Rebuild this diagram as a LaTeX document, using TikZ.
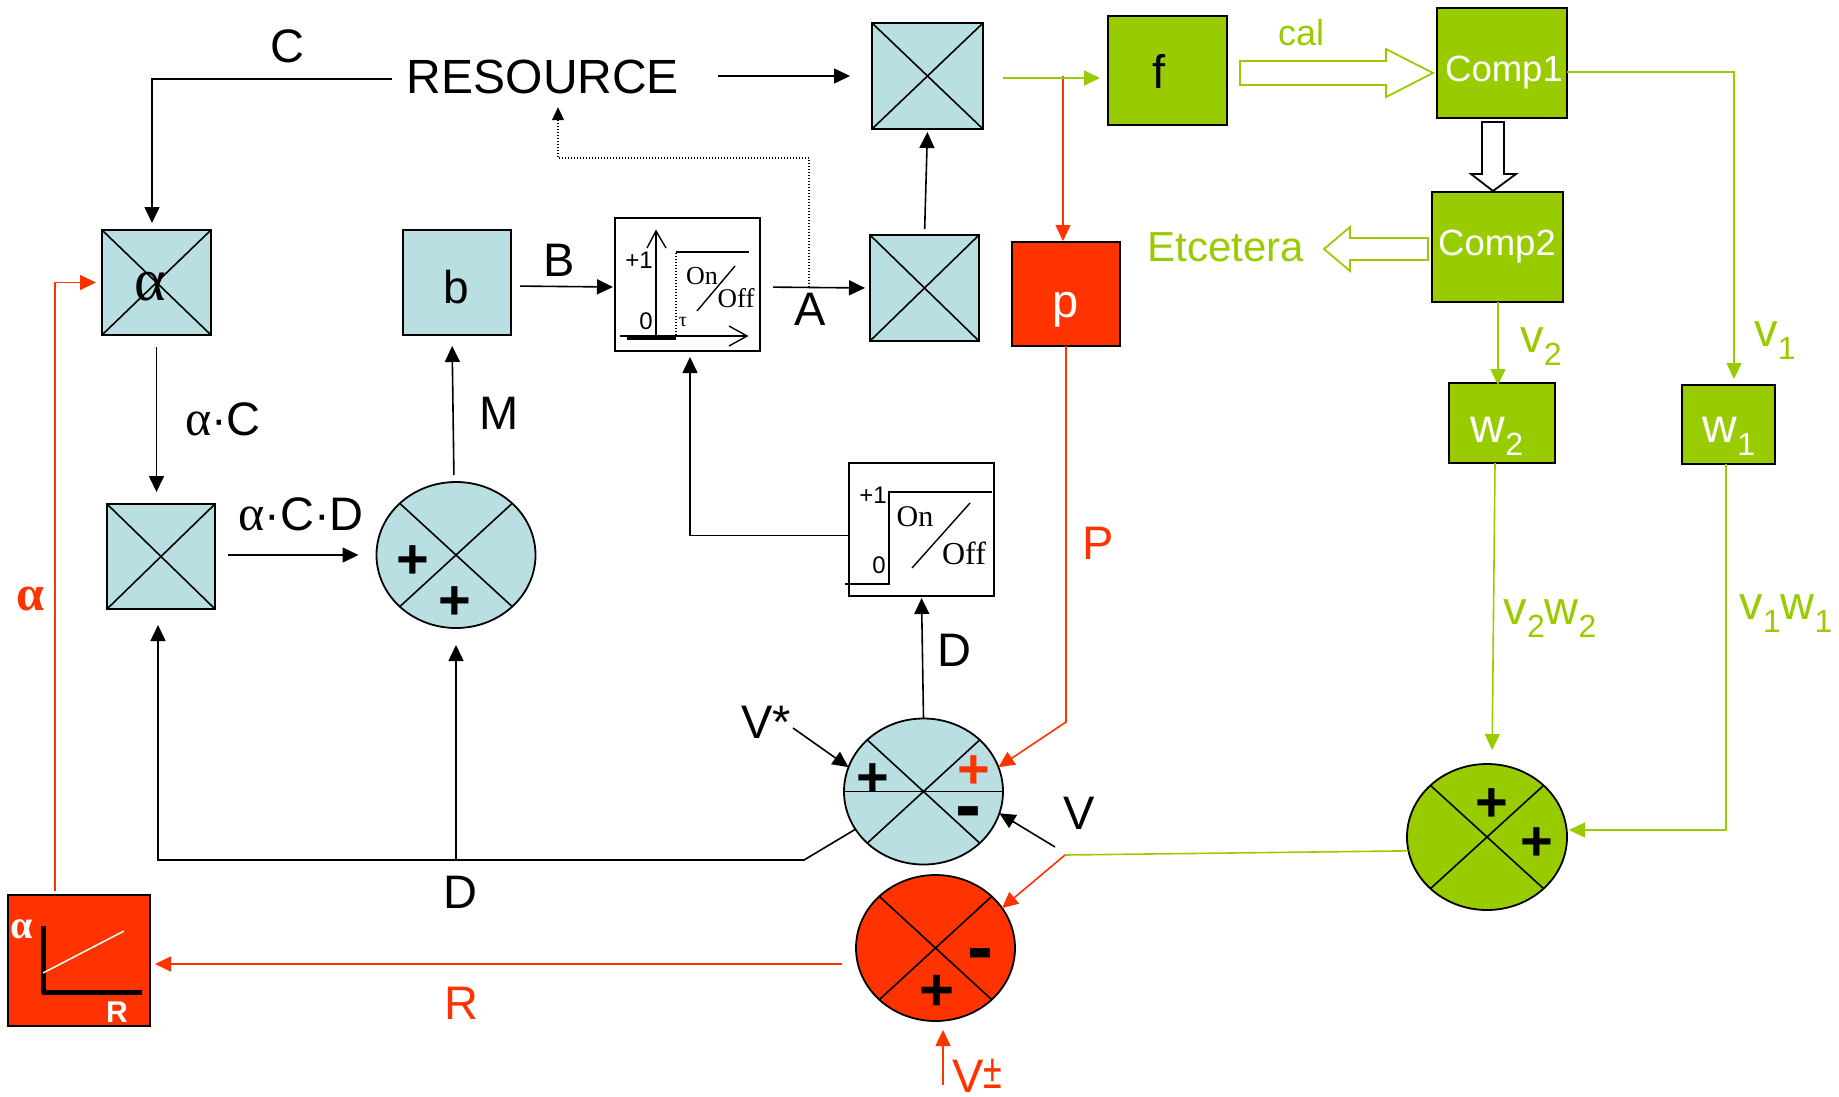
\documentclass[tikz,border=0pt]{standalone}
\usepackage{fontspec}
\setmainfont{Liberation Sans}
\newfontfamily\srf{Liberation Serif}
\usetikzlibrary{arrows.meta,shapes.geometric}
\definecolor{bl}{HTML}{B9DFE3}
\definecolor{gr}{HTML}{99CC00}
\definecolor{rd}{HTML}{FF3300}
\newcommand\fsz[1]{\fontsize{#1}{#1}\selectfont}
\newcommand\sbs[1]{\raisebox{-13pt}{\fsz{32}#1}}
\newcommand\agr{{\srf\fsz{50}α}}
\tikzset{
  sq/.style={rectangle,draw=black,line width=1.8pt,inner sep=0,outer sep=0,fill=bl},
  grbox/.style={sq,fill=gr,text=white},
  rdbox/.style={sq,fill=rd,text=white},
  whbox/.style={sq,fill=white},
  sm/.style={ellipse,draw=black,line width=1.8pt,inner sep=0,outer sep=0,fill=bl,minimum width=159pt,minimum height=146pt},
  txt/.style={inner sep=0,outer sep=0,font=\fsz{47}},
  gtxt/.style={txt,text=gr},
  rtxt/.style={txt,text=rd},
  pl/.style={inner sep=0,outer sep=0,font=\bfseries\fsz{56}},
  mn/.style={inner sep=0,outer sep=0,font=\bfseries\fsz{78}},
  tip/.style={-{Triangle[length=16pt,width=15pt]}},
  con/.style={line width=1.6pt,tip,black},
  rcon/.style={line width=1.6pt,tip,rd,line join=miter},
  gcon/.style={line width=1.6pt,tip,gr},
  xl/.style={line width=1.6pt,black},
  hollow/.style={line width=1.8pt,fill=white,line join=miter},
}
\begin{document}
\begin{tikzpicture}[x=1pt,y=-1pt]
\useasboundingbox (0,0) rectangle (1839,1096);
% boxes
\node[sq,minimum width=109pt,minimum height=105pt] (alpha) at (156.5,282.5) {};
\node[sq,minimum width=108pt,minimum height=105pt] (mtwo) at (161,556.5) {};
\node[sq,minimum width=108pt,minimum height=105pt] (bb) at (457,282.5) {};
\node[sq,minimum width=109pt,minimum height=106pt] (mA) at (924.5,288) {};
\node[sq,minimum width=111pt,minimum height=106pt] (mtop) at (927.5,76) {};
\node[whbox,minimum width=145pt,minimum height=133pt] (swa) at (687.5,284.5) {};
\node[whbox,minimum width=145pt,minimum height=133pt] (swb) at (921.5,529.5) {};
\node[grbox,minimum width=119pt,minimum height=109pt] (f) at (1167.5,70.5) {};
\node[grbox,minimum width=130pt,minimum height=110pt] (compa) at (1502,63) {};
\node[grbox,minimum width=131pt,minimum height=110pt] (compb) at (1497.5,247) {};
\node[rdbox,minimum width=108pt,minimum height=104pt] (p) at (1066,294) {};
\node[grbox,minimum width=106pt,minimum height=80pt] (wb) at (1502,423) {};
\node[grbox,minimum width=93pt,minimum height=79pt] (wa) at (1728.5,424.5) {};
\node[rdbox,fill=rd,minimum width=142pt,minimum height=131pt] (rbox) at (79,960.5) {};
% summing junctions
\node[sm] (sumM) at (456,555) {};
\node[sm] (sumB) at (923.5,791.5) {};
\node[sm,fill=rd] (sumR) at (935.5,948) {};
\node[sm,fill=gr,minimum width=160pt] (sumG) at (1487,837) {};
\foreach \n in {alpha,mtwo,mA,mtop,sumM,sumB,sumR,sumG}{
  \draw[xl] (\n.north west) -- (\n.south east);
  \draw[xl] (\n.north east) -- (\n.south west);
}
\draw[xl] (sumB.west) -- (sumB.east);
% switch 1
\draw[line width=1.4pt] (656,335) -- (656,231);
\draw[line width=1.4pt] (647,248) -- (656,231) -- (666,248);
\draw[line width=1.4pt] (620,336) -- (747,336);
\draw[line width=1.4pt] (729,326) -- (747,336) -- (729,346);
\draw[line width=5pt] (627,337) -- (676,337);
\draw[line width=1.2pt,dash pattern=on 1.5pt off 1.5pt] (676,335) -- (676,252);
\draw[line width=1.4pt] (676,252) -- (749,252);
\draw[line width=1.4pt] (697,311) -- (735,266);
\node[inner sep=0,font=\srf\fsz{26}] (onA) at (702,276) {On};
\node[inner sep=0,font=\srf\fsz{27}] (offA) at (736,298) {Off};
\node[inner sep=0,font=\fsz{24}] (pA) at (639,260) {+1};
\node[inner sep=0,font=\fsz{24}] (zA) at (646,321) {0};
\node[inner sep=0,font=\srf\fsz{20}] (tauA) at (683,322) {τ};
% switch 2
\draw[line width=1.4pt] (845,584) -- (889,584) -- (889,492) -- (992,492);
\draw[line width=1.4pt] (912,568) -- (970,503);
\node[inner sep=0,font=\srf\fsz{30}] (onB) at (915,517) {On};
\node[inner sep=0,font=\srf\fsz{32}] (offB) at (964,553) {Off};
\node[inner sep=0,font=\fsz{24}] (pB) at (873,495) {+1};
\node[inner sep=0,font=\fsz{24}] (zB) at (879,565) {0};
% red box
\draw[line width=5pt,line join=round] (43,926) -- (43,992) -- (142,992);
\draw[line width=1.5pt,white] (43,973) -- (124,931);
\node[inner sep=0,text=white,font=\bfseries\srf\fsz{40}] (ra) at (22,929) {α};
\node[inner sep=0,text=white,font=\bfseries\fsz{30}] (rr) at (117,1012) {R};
% text in boxes
\node[inner sep=0,font=\srf\fsz{60}] (ta) at (150,287) {α};
\node[inner sep=0,font=\fsz{46}] (tb) at (456,287) {b};
\node[inner sep=0,font=\fsz{47}] (tf) at (1159,71) {f};
\node[inner sep=0,text=white,font=\fsz{47}] (tp) at (1066,310) {p};
\node[inner sep=0,text=white,font=\fsz{36.5}] (tca) at (1504,73) {Comp1};
\node[inner sep=0,text=white,font=\fsz{36.5}] (tcb) at (1497,247) {Comp2};
\node[inner sep=0,text=white,font=\fsz{48}] (twb) at (1497,436) {w\sbs{2}};
\node[inner sep=0,text=white,font=\fsz{48}] (twa) at (1729,436) {w\sbs{1}};
% labels
\node[inner sep=0,font=\fsz{48}] (resource) at (543,77) {RESOURCE};
\node[txt] (lC) at (287,46) {C};
\node[txt] (lB) at (559,260) {B};
\node[txt] (lA) at (810,309) {A};
\node[txt] (lM) at (499,413) {M};
\node[txt] (lac) at (223,419) {\agr·C};
\node[txt] (lacd) at (301,514) {\agr·C·D};
\node[txt] (lD) at (954,650) {D};
\node[txt] (lDb) at (460,892) {D};
\node[txt] (vstar) at (766,722) {V*};
\node[txt] (lV) at (1079,813) {V};
\node[rtxt] (lP) at (1098,543) {P};
\node[rtxt] (lR) at (461,1003) {R};
\node[rtxt,font=\bfseries\srf\fsz{50}] (lal) at (30,599) {α};
\node[rtxt] (lVt) at (977,1076) {V\raisebox{4pt}{\fsz{34}\scalebox{1}[1.45]{±}}};
\node[gtxt,font=\fsz{36}] (lcal) at (1301,33) {cal};
\node[gtxt,font=\fsz{42}] (letc) at (1226,247) {Etcetera};
\node[gtxt] (lvb) at (1541,347) {v\sbs{2}};
\node[gtxt] (lva) at (1775,341) {v\sbs{1}};
\node[gtxt] (lvw) at (1550,619) {v\sbs{2}w\sbs{2}};
\node[gtxt] (lvwa) at (1786,614) {v\sbs{1}w\sbs{1}};
% signs
\node[pl] (sgA) at (873,780) {+};
\node[pl,text=rd] (sgB) at (974,772) {+};
\node[mn] (sgC) at (968,819) {-};
\node[mn] (sgD) at (980,961) {-};
\node[pl,font=\bfseries\fsz{60}] (sgE) at (937,993) {+};
\node[pl] (sgF) at (413,562) {+};
\node[pl] (sgG) at (455,603) {+};
\node[pl] (sgH) at (1492,805) {+};
\node[pl] (sgI) at (1537,844) {+};
% free ends and bends
\coordinate (aTap) at (809,287);
\coordinate (dotBend) at (558,158);
\coordinate (dBend) at (804,860);
\coordinate (vTail) at (1055,847);
\coordinate (vJ) at (1065,855);
\coordinate (pBend) at (1066,722);
\coordinate (fTap) at (1063,76);
\coordinate (vtTail) at (943,1085);
\coordinate (vsTail) at (793,728);
% black connectors
\draw[con,shorten <=39pt,shorten >=22pt] ([yshift=1pt]resource.east) -- (mtop.west);
\draw[con,shorten <=15pt,shorten >=7pt] ([yshift=-2pt]resource.west) -| ([xshift=-4.5pt]alpha.north);
\draw[con,shorten <=6pt,shorten >=3pt] (mA.north) -- (mtop.south);
\draw[con,line width=1.1pt,dash pattern=on 1.5pt off 1.5pt,-{Triangle[length=13pt,width=12pt]},shorten >=13pt] (aTap) |- (dotBend) -- ([xshift=15pt]resource.south);
\draw[con,shorten <=9pt,shorten >=2pt] ([yshift=-3.5pt]bb.east) -- ([yshift=-2.5pt]swa.west);
\draw[con,shorten <=13pt,shorten >=5pt] ([yshift=-2.5pt]swa.east) -- (mA.west);
\draw[con,shorten >=6pt] ([yshift=-6pt]swb.west) -| ([xshift=2.5pt]swa.south);
\draw[con,shorten >=2pt] (sumB.north) -- (swb.south);
\draw[con,shorten <=7pt,shorten >=11pt] ([xshift=-2pt]sumM.north) -- ([xshift=-5pt]bb.south);
\draw[con,shorten <=13pt,shorten >=18pt] ([yshift=1.5pt]mtwo.east) -- (sumM.west);
\draw[con,shorten <=12pt,shorten >=12pt] (alpha.south) -- ([xshift=-4.5pt]mtwo.north);
\draw[line width=1.6pt] (sumB.209) -- (dBend) -- (sumM.south |- dBend);
\draw[con,shorten >=16pt] (sumM.south |- dBend) -| ([xshift=-3pt]mtwo.south);
\draw[con,shorten >=17pt] (sumM.south |- dBend) -- (sumM.south);
\draw[con] (vsTail) -- (sumB.162);
\draw[con] (vTail) -- (sumB.344);
% red connectors
\draw[rcon] (p.south) -- (pBend) -- (sumB.18);
\draw[rcon,shorten >=1pt] (fTap) -- ([xshift=-3pt]p.north);
\draw[rcon] (vJ) -- (sumR.31);
\draw[rcon,shorten <=14pt,shorten >=5pt] ([yshift=-16pt]sumR.west) -- ([yshift=-3.5pt]rbox.east);
\draw[rcon,shorten <=4pt,shorten >=6pt] ([xshift=-24pt]rbox.north) |- (alpha.west);
\draw[rcon,shorten >=9pt] (vtTail) -- ([xshift=7.5pt]sumR.south);
% green connectors
\draw[gcon,shorten <=20pt,shorten >=8pt] ([yshift=-2pt]mtop.east) -- ([yshift=-7.5pt]f.west);
\draw[gcon,-] (sumG.190) -- (vJ);
\draw[gcon,shorten >=-2pt] ([xshift=.5pt]compb.south) -- ([xshift=-4pt]wb.north);
\draw[gcon,shorten >=6pt] ([yshift=-9pt]compa.east) -| ([xshift=5.5pt]wa.north);
\draw[gcon,shorten >=14pt] ([xshift=-7pt]wb.south) -- ([xshift=5pt]sumG.north);
\draw[gcon,shorten >=2pt] ([xshift=-2.5pt]wa.south) |- ([yshift=7pt]sumG.east);
% hollow arrows
\draw[hollow,draw=gr] (1240,61) -- (1386,61) -- (1386,49) -- (1433,73) -- (1386,97) -- (1386,85) -- (1240,85) -- cycle;
\draw[hollow,draw=black] (1482,122) -- (1504,122) -- (1504,174) -- (1516,174) -- (1493,191) -- (1471,174) -- (1482,174) -- cycle;
\draw[hollow,draw=gr] (1428,238) -- (1350,238) -- (1350,227) -- (1324,249) -- (1350,271) -- (1350,260) -- (1428,260) -- cycle;
\end{tikzpicture}
\end{document}
